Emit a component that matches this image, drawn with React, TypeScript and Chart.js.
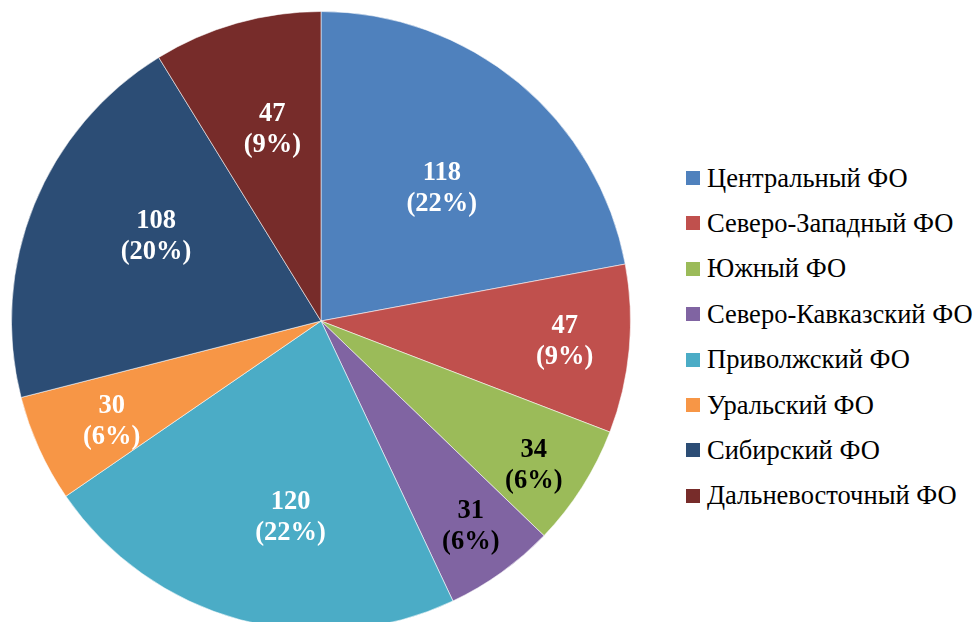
import React, { useEffect, useRef } from "react";
import { Chart, registerables } from "chart.js";

Chart.register(...registerables);

const categories = [
  "Центральный ФО",
  "Северо-Западный ФО",
  "Южный ФО",
  "Северо-Кавказский ФО",
  "Приволжский ФО",
  "Уральский ФО",
  "Сибирский ФО",
  "Дальневосточный ФО",
];
const values = [118, 47, 34, 31, 120, 30, 108, 47];
const percentLabels = ["22%", "9%", "6%", "6%", "22%", "6%", "20%", "9%"];

const colors = ["#4F81BD", "#C0504D", "#9BBB59", "#8064A2", "#4BACC6", "#F79646", "#2C4D75", "#772C2A"];
const labelColors = ["#ffffff", "#ffffff", "#000000", "#000000", "#ffffff", "#ffffff", "#ffffff", "#ffffff"];
// label placement (style): radial factor and small angular nudge in degrees
const labelRadiusFactor = [0.58, 0.79, 0.83, 0.82, 0.64, 0.75, 0.6, 0.64];
const labelAngleNudge = [2.6, -0.5, 1.6, -0.5, -6.3, -1.2, 5.3, 1.6];

const FONT = "Liberation Serif";

const labelPlugin = {
  id: "sliceLabels",
  afterDatasetsDraw(chart: any) {
    const ctx = chart.ctx;
    const meta = chart.getDatasetMeta(0);
    ctx.save();
    ctx.font = `bold 26.5px "${FONT}"`;
    ctx.textAlign = "center";
    ctx.textBaseline = "middle";
    meta.data.forEach((arc: any, i: number) => {
      const { x, y, startAngle, endAngle, outerRadius } = arc.getProps(
        ["x", "y", "startAngle", "endAngle", "outerRadius"],
        true
      );
      const mid = (startAngle + endAngle) / 2 + (labelAngleNudge[i] * Math.PI) / 180;
      const r = outerRadius * labelRadiusFactor[i];
      const cx = x + Math.cos(mid) * r;
      const cy = y + Math.sin(mid) * r;
      ctx.fillStyle = labelColors[i];
      ctx.fillText(String(values[i]), cx, cy - 15);
      ctx.fillText(`(${percentLabels[i]})`, cx, cy + 16);
    });
    ctx.restore();
  },
};

export default function App() {
  const ref = useRef<HTMLCanvasElement>(null);
  useEffect(() => {
    if (!ref.current) return;
    const chart = new Chart(ref.current, {
      type: "pie",
      data: {
        labels: categories,
        datasets: [
          {
            data: values,
            backgroundColor: colors,
            borderColor: "rgba(255,255,255,0.55)",
            borderWidth: 1,
          },
        ],
      },
      options: {
        responsive: false,
        animation: false,
        layout: { padding: 0 },
        plugins: {
          legend: { display: false },
          tooltip: { enabled: false },
        },
      },
      plugins: [labelPlugin],
    });
    return () => chart.destroy();
  }, []);

  return (
    <div
      style={{
        position: "fixed",
        left: 0,
        top: 0,
        width: 975,
        height: 622,
        overflow: "hidden",
        background: "#ffffff",
      }}
    >
      <canvas
        ref={ref}
        width={620}
        height={620}
        style={{ position: "absolute", left: 11, top: 11, width: 620, height: 620 }}
      />
      {categories.map((c, i) => (
        <div
          key={c}
          style={{
            position: "absolute",
            left: 686,
            top: 178 + i * 45.4 - 16,
            height: 32,
            display: "flex",
            alignItems: "center",
            fontFamily: `"${FONT}"`,
            fontSize: 26.5,
            color: "#000",
            whiteSpace: "nowrap",
          }}
        >
          <span
            style={{
              display: "inline-block",
              width: 14,
              height: 14,
              background: colors[i],
              marginRight: 7,
              flex: "none",
            }}
          />
          <span>{c}</span>
        </div>
      ))}
    </div>
  );
}
